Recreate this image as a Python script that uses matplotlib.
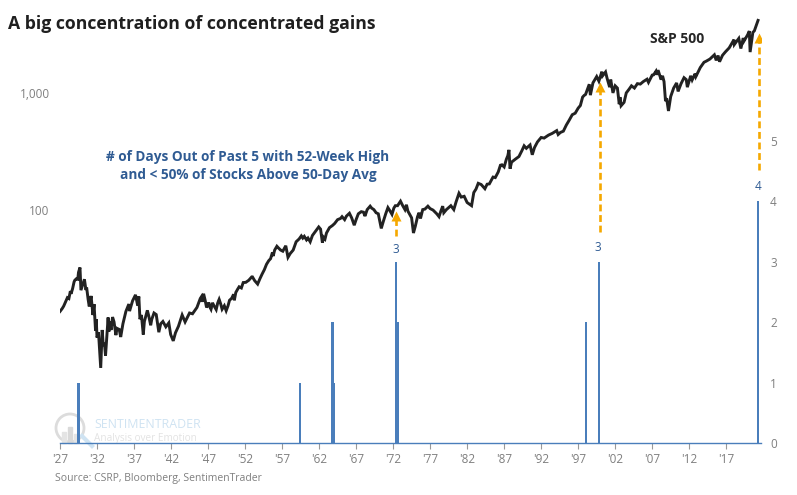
import matplotlib
matplotlib.use('Agg')
import matplotlib.pyplot as plt
from matplotlib.patches import Circle, Rectangle

plt.rcParams['font.family'] = ['Open Sans', 'DejaVu Sans']

# S&P 500 as (year, level)
sp_1927 = [(1927.0, 13.4), (1927.3, 14.2), (1927.5, 14.9), (1927.8, 16.5), (1928.0, 17.6), (1928.2, 17.3), (1928.4, 20), (1928.5, 19), (1928.7, 21), (1928.9, 24), (1929.0, 24.8), (1929.2, 25.5), (1929.4, 25.3), (1929.5, 29), (1929.7, 31.9), (1929.83, 20.4), (1930.0, 22), (1930.3, 25.3), (1930.5, 20.5), (1930.6, 21.5), (1930.8, 17), (1930.95, 14.8), (1931.2, 18.2), (1931.45, 12.5), (1931.6, 15.5), (1931.8, 9.2), (1931.9, 11.5), (1932.0, 8), (1932.2, 8.9), (1932.5, 4.4), (1932.7, 9.3), (1932.85, 6.8), (1933.0, 7.2), (1933.15, 5.6), (1933.5, 11.9), (1933.6, 9), (1933.7, 11), (1933.9, 9.3), (1934.1, 12), (1934.3, 10.9), (1934.55, 8.4), (1934.7, 9.6), (1935.0, 9.4), (1935.2, 8.1), (1935.5, 10.5), (1935.9, 13.4), (1936.3, 15.5), (1936.4, 13.5), (1936.8, 16.5)]
sp_1937 = [(1937.2, 18.6), (1937.5, 15), (1937.65, 18), (1937.8, 11.5), (1938.0, 12.5), (1938.25, 8.5), (1938.4, 11), (1938.8, 13.7), (1939.0, 12.2), (1939.25, 10.2), (1939.4, 11.5), (1939.7, 13), (1940.0, 12.6), (1940.35, 8.9), (1940.6, 10.5), (1940.9, 11), (1941.3, 9.9), (1941.7, 10.7), (1941.95, 8.5), (1942.3, 7.5), (1942.6, 8.8), (1943.0, 10), (1943.5, 12.5), (1943.9, 10.9), (1944.5, 13), (1944.9, 12.8), (1945.5, 14.5), (1945.95, 17.3), (1946.1, 17.9), (1946.2, 16.2), (1946.4, 19), (1946.6, 16.8), (1946.8, 14.5), (1947.0, 15.3), (1947.1, 16), (1947.25, 14.6), (1947.4, 14), (1947.6, 15.9), (1947.8, 15), (1948.1, 13.9), (1948.3, 15.8), (1948.5, 17), (1948.7, 15.6), (1948.9, 14), (1949.2, 15), (1949.45, 13.6), (1949.7, 15), (1949.9, 16.7)]
sp_1950 = [(1950.2, 17.4), (1950.45, 18.8), (1950.55, 16.7), (1950.75, 19.5), (1951.0, 20.8), (1951.2, 21.8), (1951.5, 21.3), (1951.75, 23.7), (1952.1, 23.8), (1952.5, 24.8), (1952.9, 26.5), (1953.0, 26.5), (1953.3, 24.6), (1953.7, 23), (1954.0, 25.5), (1954.3, 28), (1954.6, 30.5), (1954.9, 34), (1955.2, 36.5), (1955.45, 38), (1955.7, 43), (1955.8, 40), (1956.0, 45), (1956.3, 48.5), (1956.5, 47), (1956.8, 45), (1957.1, 44), (1957.5, 49), (1957.8, 39), (1958.1, 42), (1958.5, 45), (1958.9, 53), (1959.3, 56), (1959.6, 59.5), (1959.8, 57), (1960.0, 59), (1960.3, 55), (1960.5, 57), (1960.8, 53), (1961.1, 60), (1961.5, 65), (1961.95, 71), (1962.2, 68), (1962.45, 52), (1962.6, 58), (1962.8, 56), (1963.0, 63), (1963.4, 70), (1963.8, 73), (1964.1, 76), (1964.5, 82), (1964.9, 84), (1965.1, 87), (1965.45, 82), (1965.7, 88), (1966.1, 93), (1966.4, 85), (1966.75, 73.5), (1967.0, 82), (1967.3, 92), (1967.7, 96), (1968.0, 95), (1968.2, 88), (1968.5, 100), (1968.9, 107), (1969.1, 103), (1969.4, 100)]
sp_1970 = [(1969.7, 94), (1970.0, 92), (1970.4, 69), (1970.7, 80), (1971.0, 92), (1971.3, 104), (1971.6, 97), (1971.85, 91), (1972.1, 103), (1972.3, 108), (1972.6, 108), (1973.0, 118), (1973.3, 108), (1973.6, 100), (1973.8, 110), (1974.0, 97), (1974.5, 85), (1974.75, 63), (1975.0, 72), (1975.3, 87), (1975.5, 94), (1975.7, 84), (1976.0, 100), (1976.3, 101), (1976.7, 107), (1977.0, 102), (1977.4, 99), (1977.9, 92), (1978.2, 87), (1978.45, 97), (1978.7, 107), (1978.85, 94), (1979.2, 100), (1979.8, 108), (1980.2, 100), (1980.5, 116), (1980.9, 138), (1981.2, 128), (1981.6, 130), (1982.0, 115), (1982.6, 108), (1982.9, 140), (1983.2, 150), (1983.5, 168), (1983.9, 164), (1984.4, 151), (1984.7, 165), (1985.0, 166), (1985.5, 190), (1985.8, 188), (1986.2, 210), (1986.5, 240), (1986.7, 242), (1987.0, 232)]
sp_1987 = [(1987.3, 270), (1987.5, 290), (1987.65, 325), (1987.8, 224), (1988.0, 255), (1988.5, 270), (1989.0, 285), (1989.4, 320), (1989.7, 352), (1990.0, 335), (1990.5, 358), (1990.8, 295), (1991.1, 340), (1991.5, 380), (1992.0, 415), (1992.4, 410), (1993.0, 435), (1993.5, 450), (1994.1, 475), (1994.3, 440), (1994.6, 458), (1995.0, 470), (1995.4, 530), (1995.8, 585), (1996.2, 650), (1996.6, 670), (1997.0, 740), (1997.3, 780), (1997.6, 920), (1997.8, 950), (1998.0, 970), (1998.5, 1186), (1998.65, 957), (1999.0, 1220), (1999.5, 1380), (1999.8, 1260), (2000.2, 1520), (2000.3, 1400), (2000.7, 1510), (2000.9, 1340), (2001.25, 1120), (2001.4, 1300), (2001.7, 1000), (2002.0, 1150), (2002.3, 1100), (2002.55, 800), (2002.65, 920), (2002.8, 776)]
sp_2003 = [(2003.2, 830), (2003.5, 1000), (2003.9, 1080), (2004.2, 1150), (2004.6, 1100), (2005.0, 1200), (2005.4, 1190), (2005.8, 1250), (2006.3, 1310), (2006.5, 1230), (2007.0, 1420), (2007.2, 1430), (2007.5, 1530), (2007.6, 1430), (2007.8, 1565), (2008.2, 1300), (2008.4, 1400), (2008.6, 1250), (2008.8, 850), (2008.95, 900), (2009.2, 700), (2009.5, 930), (2009.9, 1100), (2010.3, 1217), (2010.5, 1030), (2010.9, 1200), (2011.3, 1350), (2011.6, 1300), (2011.75, 1120), (2012.2, 1400), (2012.4, 1290), (2012.8, 1460), (2012.9, 1380), (2013.5, 1650), (2014.0, 1830), (2014.3, 1870), (2014.8, 1950), (2015.4, 2120), (2015.65, 1900), (2015.9, 2090), (2016.1, 1850), (2016.5, 2100), (2016.9, 2250), (2017.4, 2430), (2018.05, 2860), (2018.1, 2600), (2018.7, 2930), (2018.98, 2400), (2019.3, 2950), (2019.4, 2780), (2019.9, 3150), (2020.12, 3386), (2020.23, 2237), (2020.6, 3300), (2020.8, 3400), (2021.3, 4180)]

# days out of past 5, right axis
bar_years = [1929.5, 1959.4, 1963.8, 1963.95, 1972.4, 1972.7, 1998.1, 1999.8, 2021.3]
bar_days = [1, 1, 2, 1, 3, 2, 2, 3, 4]

label_years = [1972.4, 1999.7, 2021.3]
label_days = [3, 3, 4]
label_heights = [3.12, 3.15, 4.16]

arrow_years = [1972.4, 1999.9, 2021.4]
arrow_tails = [3.45, 3.52, 4.55]
arrow_heads = [3.78, 5.93, 6.75]

x_ticks = list(range(1927, 2018, 5))
x_labels = ["'" + str(y)[2:] for y in x_ticks]
gray = '#7f7f7f'
blue = '#4a7ebb'
text_blue = '#2f5b93'
orange = '#f5a800'

sp_all = sp_1927 + sp_1937 + sp_1950 + sp_1970 + sp_1987 + sp_2003
sp_years = [p[0] for p in sp_all]
sp_values = [p[1] for p in sp_all]

fig = plt.figure(figsize=(7.97, 4.95), dpi=100)
ax = fig.add_axes([60 / 797, 52 / 495, 701 / 797, 428 / 495])
ax.set_zorder(2)
ax.patch.set_visible(False)
ax.plot(sp_years, sp_values, color='#222222', lw=2.1, solid_joinstyle='miter')
ax.set_yscale('log')
ax.set_xlim(1927, 2021.7)
ax.set_ylim(1, 4650)
ax.set_yticks([100, 1000])
ax.set_yticklabels(['100', '1,000'])
ax.minorticks_off()
ax.set_xticks(x_ticks)
ax.set_xticklabels(x_labels)
ax.tick_params(axis='y', length=0, pad=7.5, labelsize=8.5, labelcolor=gray)
ax.tick_params(axis='x', length=4, color='#999999', pad=3.5, labelsize=8.5, labelcolor=gray)
for side in ['top', 'left', 'right']:
    ax.spines[side].set_visible(False)
ax.spines['bottom'].set_color(blue)
ax.spines['bottom'].set_linewidth(1.0)

ax2 = ax.twinx()
ax2.set_zorder(1)
ax2.bar(bar_years, bar_days, width=0.3, color=blue)
ax2.set_ylim(0, 425 / 60)
ax2.set_yticks([0, 1, 2, 3, 4, 5])
ax2.tick_params(axis='y', length=0, pad=6.5, labelsize=8.5, labelcolor=gray)
for side in ['top', 'left', 'right', 'bottom']:
    ax2.spines[side].set_visible(False)

ax3 = ax.twinx()
ax3.set_zorder(3)
ax3.patch.set_visible(False)
ax3.set_ylim(0, 428 / 60)
ax3.set_yticks([])
for side in ['top', 'left', 'right', 'bottom']:
    ax3.spines[side].set_visible(False)
for x, tail, head in zip(arrow_years, arrow_tails, arrow_heads):
    ax3.plot([x, x], [tail, head], color=orange, lw=1.9, ls=(0, (2.6, 1.4)))
    ax3.plot([x], [head], marker='^', ms=7.5, color=orange, mec='none')
for x, h, d in zip(label_years, label_heights, label_days):
    ax3.text(x, h, str(d), color=text_blue, fontsize=8.5, ha='center', va='bottom')

fig.text(8 / 797, 1 - 24 / 495, 'A big concentration of concentrated gains', fontsize=12.7,
         fontweight='bold', color='#1f1f1f', ha='left', va='center')
fig.text(677 / 797, 1 - 39 / 495, 'S&P 500', fontsize=10, fontweight='bold', color='#262626',
         ha='center', va='center')
fig.text(248 / 797, 1 - 166 / 495, '# of Days Out of Past 5 with 52-Week High\nand < 50% of Stocks Above 50-Day Avg',
         fontsize=9.8, fontweight='bold', color=text_blue, ha='center', va='center', linespacing=1.45)
fig.text(55 / 797, 1 - 478 / 495, 'Source: CSRP, Bloomberg, SentimenTrader', fontsize=7.5, color=gray,
         ha='left', va='center')

# watermark logo
fig.text(94 / 797, 1 - 425 / 495, 'SENTIMENTRADER', fontsize=8.9, color='#cfe3f2', ha='left', va='center', zorder=0)
fig.text(94 / 797, 1 - 438 / 495, 'Analysis over Emotion', fontsize=7.2, color='#e3e3e3', ha='left', va='center', zorder=0)
logo = fig.add_axes([0, 0, 1, 1], zorder=0)
logo.set_xlim(0, 797)
logo.set_ylim(495, 0)
logo.axis('off')
logo.add_patch(Circle((70, 428), 14, fill=False, ec='#dcdcdc', lw=2))
logo.add_patch(Rectangle((62, 432), 4, 11, color='#e4e4e4'))
logo.add_patch(Rectangle((68, 427), 4, 16, color='#d9d9d9'))
logo.add_patch(Rectangle((74, 434), 4, 9, color='#e4e4e4'))
logo.plot([82, 92], [436, 446], color='#cfe3f2', lw=3)

fig.savefig('out.png', dpi=100)
